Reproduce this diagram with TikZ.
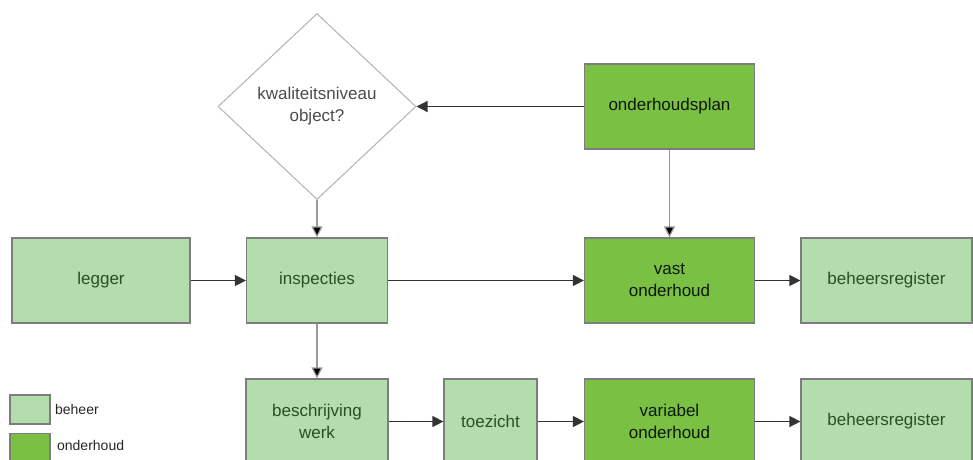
\documentclass[tikz,border=0pt]{standalone}
\usepackage{fontspec}
\setmainfont{Liberation Sans}
\usetikzlibrary{arrows.meta, positioning, shapes.geometric}

\definecolor{beheergroen}{RGB}{180,221,174}
\definecolor{onderhoudgroen}{RGB}{122,192,66}
\definecolor{tekstgroen}{RGB}{40,80,36}
\definecolor{randgrijs}{RGB}{125,125,125}

\begin{document}
\begin{tikzpicture}[
    x=1pt, y=-1pt,
    box/.style={rectangle, draw=randgrijs, line width=1.2pt, minimum height=85pt,
        text=tekstgroen, align=center, font=\fontsize{17}{22}\selectfont},
    beheer/.style={box, fill=beheergroen},
    onderhoud/.style={box, fill=onderhoudgroen, text=black!70!tekstgroen},
    vraag/.style={diamond, draw=black!30, line width=1pt, fill=white,
        minimum width=198pt, minimum height=186pt, inner sep=0pt,
        text=black!70, align=center, font=\fontsize{17}{22}\selectfont},
    pijl/.style={draw=black!80, line width=1.2pt, -{Triangle[length=11pt,width=11pt]}},
    grijspijl/.style={pijl, draw=black!40, -{Triangle[length=11pt,width=11pt,fill=black]}}
    ]
    \useasboundingbox (0,0) rectangle (973,459);

    % Nodes
    \node[vraag] (kwaliteit) at (317,106.5) {kwaliteitsniveau\\object?};
    \node[onderhoud, minimum width=170pt] (plan) at (669.5,106.5) {onderhoudsplan};

    \node[beheer, minimum width=178pt] (legger) at (101,280.5) {legger};
    \node[beheer, minimum width=141pt] (inspecties) at (317,280.5) {inspecties};
    \node[onderhoud, minimum width=170pt] (vast) at (669.5,280.5) {vast\\onderhoud};
    \node[beheer, minimum width=171pt] (register1) at (886.5,280.5) {beheersregister};

    \node[beheer, minimum width=142pt] (beschrijving) at (317,421.5) {beschrijving\\werk};
    \node[beheer, minimum width=93pt] (toezicht) at (490.5,421.5) {toezicht};
    \node[onderhoud, minimum width=170pt] (variabel) at (669.5,421.5) {variabel\\onderhoud};
    \node[beheer, minimum width=171pt] (register2) at (886.5,421.5) {beheersregister};

    % Legend
    \node[beheer, minimum width=40pt, minimum height=29pt] (legbeheer) at (30,409.5) {};
    \node[onderhoud, minimum width=40pt, minimum height=29pt] (legonderhoud) at (30,448) {};
    \node[right=1pt of legbeheer, font=\fontsize{14}{16}\selectfont, text=black!85] {beheer};
    \node[right=3pt of legonderhoud, font=\fontsize{14}{16}\selectfont, text=black!85, yshift=3pt] {onderhoud};

    % Arrows
    \draw[pijl] (plan) -- (kwaliteit.east);
    \draw[grijspijl] (kwaliteit.south) -- (inspecties);
    \draw[grijspijl] (plan) -- (vast);
    \draw[pijl] (legger) -- (inspecties);
    \draw[pijl] (inspecties) -- (vast);
    \draw[pijl] (vast) -- (register1);
    \draw[grijspijl] (inspecties) -- (beschrijving);
    \draw[pijl] (beschrijving) -- (toezicht);
    \draw[pijl] (toezicht) -- (variabel);
    \draw[pijl] (variabel) -- (register2);
\end{tikzpicture}
\end{document}
